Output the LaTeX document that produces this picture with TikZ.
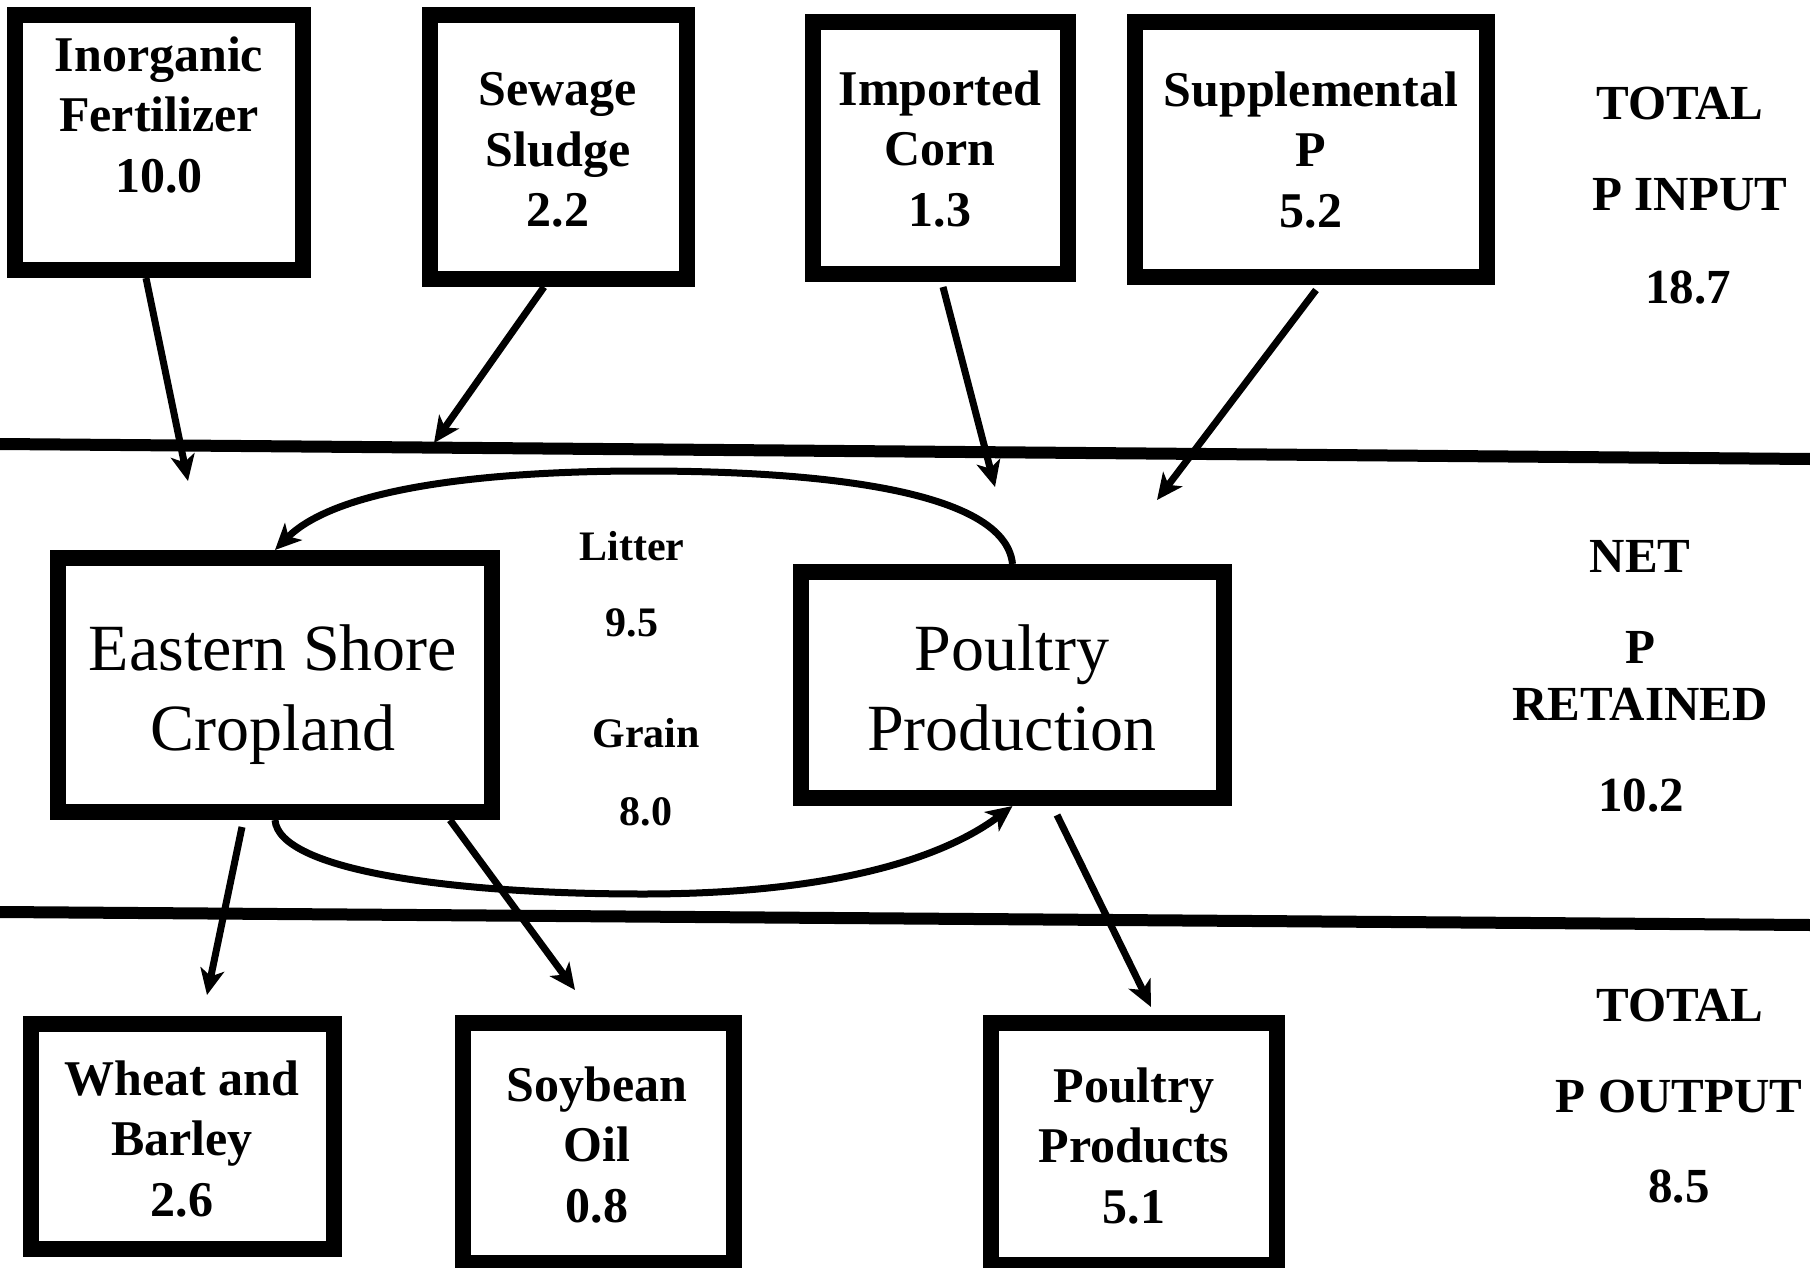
\documentclass[tikz,border=0pt]{standalone}
\usepackage{fontspec}
\setmainfont{Liberation Serif}
\usetikzlibrary{arrows.meta}
\begin{document}
\begin{tikzpicture}[x=1pt,y=-1pt,
  fbox/.style={draw, line width=16pt, inner sep=0pt},
  boxtxt/.style={font=\fontsize{50}{60.5}\selectfont\bfseries, align=center, inner sep=0pt},
  bigtxt/.style={font=\fontsize{66}{80}\selectfont, align=center, inner sep=0pt},
  midtxt/.style={font=\fontsize{42}{50}\selectfont\bfseries, inner sep=0pt},
  sidetxt/.style={font=\fontsize{49}{58}\selectfont\bfseries, inner sep=0pt},
  flow/.style={line width=7pt, -{Stealth[length=26pt,width=24pt,inset=7pt]}},
  sepline/.style={line width=12pt}]
\useasboundingbox (0,0) rectangle (1810,1268);

% separator lines
\draw[sepline] (0,444) -- (1810,459);
\draw[sepline] (0,912) -- (1810,925);

% input boxes
\node[fbox, minimum width=288pt, minimum height=255pt] (b1) at (159,142.5) {};
\node[fbox, minimum width=257pt, minimum height=264pt] (b2) at (558.5,147) {};
\node[fbox, minimum width=255pt, minimum height=252pt] (b3) at (940.5,148) {};
\node[fbox, minimum width=352pt, minimum height=255pt] (b4) at (1311,149.5) {};
\node[boxtxt] (t1) at (159,115) {Inorganic\\Fertilizer\\10.0};
\node[boxtxt] (t2) at (558,150) {Sewage\\Sludge\\2.2};
\node[boxtxt] (t3) at (940,149) {Imported\\Corn\\1.3};
\node[boxtxt] (t4) at (1311,150) {Supplemental\\P\\5.2};

% central boxes
\node[fbox, minimum width=434pt, minimum height=254pt] (ec) at (275,685) {};
\node[fbox, minimum width=423pt, minimum height=226pt] (pp) at (1012.5,685) {};
\node[bigtxt] (tec) at (273,694.5) {Eastern Shore\\Cropland};
\node[bigtxt] (tpp) at (1012,687.5) {Poultry\\Production};

% output boxes
\node[fbox, minimum width=303pt, minimum height=225pt] (wb) at (182.5,1136.5) {};
\node[fbox, minimum width=271pt, minimum height=240pt] (so) at (598.5,1143) {};
\node[fbox, minimum width=286pt, minimum height=242pt] (ppr) at (1134,1144) {};
\node[boxtxt] (twb) at (182,1138.5) {Wheat and\\Barley\\2.6};
\node[boxtxt] (tso) at (597,1144.5) {Soybean\\Oil\\0.8};
\node[boxtxt] (tppr) at (1134,1145.5) {Poultry\\Products\\5.1};

% middle labels
\node[midtxt] (litter) at (632,546) {Litter};
\node[midtxt] (lv) at (632,623) {9.5};
\node[midtxt] (grain) at (646,733) {Grain};
\node[midtxt] (gv) at (646,812) {8.0};

% side labels
\node[sidetxt] (r1) at (1680,104) {TOTAL};
\node[sidetxt] (r2) at (1690,195) {P INPUT};
\node[sidetxt] (r3) at (1688,288) {18.7};
\node[sidetxt] (r4) at (1640,556) {NET};
\node[sidetxt] (r5) at (1640,647) {P};
\node[sidetxt] (r6) at (1640,704) {RETAINED};
\node[sidetxt] (r7) at (1641,796) {10.2};
\node[sidetxt] (r8) at (1680,1006) {TOTAL};
\node[sidetxt] (r9) at (1679,1097) {P OUTPUT};
\node[sidetxt] (r10) at (1679,1187) {8.5};

% connector end points
\coordinate (s1) at (146,278);  \coordinate (e1) at (188,481);
\coordinate (s2) at (544,287);  \coordinate (e2) at (434,443);
\coordinate (s3) at (943,287);  \coordinate (e3) at (995,487);
\coordinate (s4) at (1316,290); \coordinate (e4) at (1157,500);
\coordinate (s5) at (242,827);  \coordinate (e5) at (207,995);
\coordinate (s6) at (450,820);  \coordinate (e6) at (575,990);
\coordinate (s7) at (1057,815); \coordinate (e7) at (1151,1007);
\coordinate (ltop) at (643,471);
\coordinate (gbot) at (643,894);

\draw[flow] (s1) -- (e1);
\draw[flow] (s2) -- (e2);
\draw[flow] (s3) -- (e3);
\draw[flow] (s4) -- (e4);
\draw[flow] (s5) -- (e5);
\draw[flow] (s6) -- (e6);
\draw[flow] (s7) -- (e7);

% litter loop
\draw[flow] (pp.north) .. controls (1005,490) and (820,471) .. (ltop)
  .. controls (480,471) and (336,489) .. (ec.north);
% grain loop
\draw[flow] (ec.south) .. controls (279,870) and (450,894) .. (gbot)
  .. controls (830,894) and (942,859) .. (pp.south);
\end{tikzpicture}
\end{document}
